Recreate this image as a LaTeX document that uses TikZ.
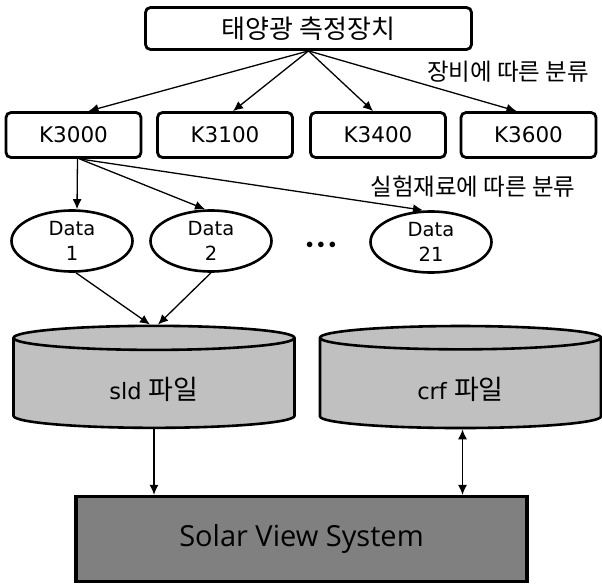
\documentclass[tikz,border=0pt]{standalone}
\usepackage{fontspec}
\setmainfont{Noto Sans CJK KR}
\newfontfamily\latinfont{DejaVu Sans}
\newfontfamily\viewfont{Open Sans}
\usetikzlibrary{calc,shapes.geometric,arrows.meta}
\definecolor{fichiergris}{RGB}{192,192,192}
\definecolor{systemegris}{RGB}{128,128,128}
\tikzstyle{device} = [rectangle, draw=black, line width=2.8pt, rounded corners=5pt, minimum height=45pt, minimum width=135pt, inner sep=0pt, font=\latinfont\fontsize{21.5}{24}\selectfont]
\tikzstyle{dataset} = [ellipse, draw=black, line width=2.6pt, minimum width=121pt, minimum height=61pt, inner sep=0pt, align=center, font=\latinfont\fontsize{19.5}{25}\selectfont]
\tikzstyle{dbfile} = [cylinder, shape border rotate=90, aspect=0.27, draw=black, line width=2.6pt, fill=fichiergris, minimum width=281pt, minimum height=102pt, inner sep=0pt]
\tikzstyle{grouplabel} = [inner sep=0pt, font=\fontsize{23.5}{26}\selectfont]
\tikzstyle{link} = [line width=1.3pt, -{Latex[length=10pt,width=9pt]}]

\begin{document}
\begin{tikzpicture}[x=1pt, y=-1pt]
    \useasboundingbox (0,0) rectangle (602,585);
    \node (solarDevice) [device, minimum width=326pt, minimum height=42pt, font=\fontsize{26}{30}\selectfont] at (308.5,28.5) {태양광 측정장치};

    \node (kTroisMille) [device] at (73.5,135) {K3000};
    \node (kTroisCent) [device] at (225,135) {K3100};
    \node (kQuatreCent) [device] at (378,135) {K3400};
    \node (kSixCent) [device] at (528.5,135) {K3600};

    \node (labelEquip) [grouplabel] at (508,72) {장비에 따른 분류};
    \node (labelMaterial) [grouplabel] at (473,187) {실험재료에 따른 분류};

    \node (dataOne) [dataset] at (72,241) {Data\\1};
    \node (dataTwo) [dataset] at (211,241) {Data\\2};
    \node (dotsMore) [inner sep=0pt, font=\fontsize{15}{18}\selectfont] at (321,245) {$\bullet\hspace{1pt}\bullet\hspace{1pt}\bullet$};
    \node (dataLast) [dataset] at (431,242) {Data\\21};

    \node (sldFile) [dbfile] at (154,383.5) {\raisebox{-15.5pt}[0pt][0pt]{\latinfont\fontsize{22.5}{26}\selectfont sld \fontspec{Noto Sans CJK KR}\fontsize{27}{30}\selectfont 파일}};
    \node (crfFile) [dbfile] at (460.5,383.5) {\raisebox{-15.5pt}[0pt][0pt]{\latinfont\fontsize{22.5}{26}\selectfont crf \fontspec{Noto Sans CJK KR}\fontsize{27}{30}\selectfont 파일}};

    \node (viewSystem) [rectangle, draw=black, line width=3.2pt, fill=systemegris, minimum width=451pt, minimum height=85pt, font=\viewfont\fontsize{29}{32}\selectfont] at (301.5,539) {Solar View System};

    \draw[link] (solarDevice.south) -- ($(kTroisMille.north) + (15,0)$);
    \draw[link] (solarDevice.south) -- ($(kTroisCent.north) + (8,0)$);
    \draw[link] (solarDevice.south) -- ($(kQuatreCent.north) + (-5,0)$);
    \draw[link] (solarDevice.south) -- ($(kSixCent.north) + (-12,0)$);

    \draw[link] ($(kTroisMille.south) + (4,0)$) -- ($(dataOne.north) + (5,0)$);
    \draw[link] ($(kTroisMille.south) + (6,0)$) -- ($(dataTwo.north) + (-6,0)$);
    \draw[link] ($(kTroisMille.south) + (6,0)$) -- ($(dataLast.north) + (-8,0)$);

    \draw[link] ($(dataOne.south) + (4,0)$) -- ($(sldFile.north) + (-4,0)$);
    \draw[link] (dataTwo.south) -- ($(sldFile.north) + (4,0)$);

    \draw[link] (sldFile.south) -- (sldFile.south |- viewSystem.north);
    \draw[link, {Latex[length=10pt,width=9pt]}-{Latex[length=10pt,width=9pt]}] ($(crfFile.south) + (2,0)$) -- ($(crfFile.south |- viewSystem.north) + (2,0)$);
\end{tikzpicture}
\end{document}
